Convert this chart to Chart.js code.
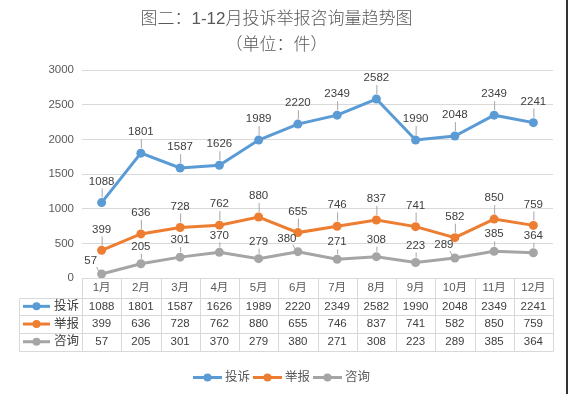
<!DOCTYPE html>
<html>
<head>
<meta charset="utf-8">
<script src="https://cdn.jsdelivr.net/npm/chart.js@4.4.0/dist/chart.umd.min.js"></script>
<style>
  html, body { margin: 0; padding: 0; background: #fff; }
  #wrap { position: relative; width: 569px; height: 394px; }
  #edge { position: absolute; left: 566px; top: 0; width: 2px; height: 394px; background: #333; }
</style>
</head>
<body>
<div id="wrap">
  <canvas id="trendChart" width="569" height="394"></canvas>
  <div id="edge"></div>
</div>
<script>
const months = ["1月", "2月", "3月", "4月", "5月", "6月", "7月", "8月", "9月", "10月", "11月", "12月"];
const seriesNames = ["投诉", "举报", "咨询"];
const tousu = [1088, 1801, 1587, 1626, 1989, 2220, 2349, 2582, 1990, 2048, 2349, 2241];
const jubao = [399, 636, 728, 762, 880, 655, 746, 837, 741, 582, 850, 759];
const zixun = [57, 205, 301, 370, 279, 380, 271, 308, 223, 289, 385, 364];
const yMax = 3000;
const yStep = 500;

const colors = ["#5B9BD5", "#ED7D31", "#A5A5A5"];
const labelLift = [21, 21, 17];
const FONT = "'Liberation Sans', 'Noto Sans CJK SC', sans-serif";

// 折线图标记（线 + 圆点）
function drawSymbol(ctx, x1, x2, y, color) {
  ctx.save();
  ctx.strokeStyle = color;
  ctx.lineWidth = 3;
  ctx.beginPath();
  ctx.moveTo(x1, y);
  ctx.lineTo(x2, y);
  ctx.stroke();
  ctx.fillStyle = color;
  ctx.beginPath();
  ctx.arc((x1 + x2) / 2, y, 4, 0, Math.PI * 2);
  ctx.fill();
  ctx.restore();
}

// 数据标签 + 引导线（被其他系列的点挡住时往左下挪一点）
const labelPlugin = {
  id: "pointLabels",
  afterDatasetsDraw(chart) {
    const ctx = chart.ctx;
    const metas = chart.data.datasets.map((ds, i) => chart.getDatasetMeta(i));
    ctx.save();
    ctx.font = "11.5px " + FONT;
    ctx.fillStyle = "#404040";
    ctx.textAlign = "center";
    ctx.textBaseline = "middle";
    chart.data.datasets.forEach((ds, i) => {
      const lift = labelLift[i];
      metas[i].data.forEach((pt, j) => {
        let lx = pt.x, ly = pt.y - lift;
        const hit = metas.some((m, k) => k !== i && Math.abs(m.data[j].y - ly) < 8);
        if (hit) { lx = pt.x - 11; ly = pt.y - 13; }
        ctx.strokeStyle = "#A6A6A6";
        ctx.lineWidth = 1;
        ctx.beginPath();
        if (hit) {
          ctx.moveTo(lx + 6, ly + 6);
          ctx.lineTo(pt.x - 3, pt.y - 3);
        } else {
          ctx.moveTo(pt.x + 0.5, ly + 7);
          ctx.lineTo(pt.x + 0.5, pt.y - 5);
        }
        ctx.stroke();
        ctx.fillText(String(ds.data[j]), lx, ly);
      });
    });
    ctx.restore();
  }
};

// 数据表 + 图例
const tablePlugin = {
  id: "dataTable",
  afterDraw(chart) {
    const ctx = chart.ctx;
    const a = chart.chartArea;
    const x = chart.scales.x;
    const tableLeft = 19.5;
    const top = Math.round(a.bottom) + 0.5;
    const headH = 19;
    const rowH = 17.7;
    const bottom = Math.round(top + headH + rowH * 3) + 0.5;
    const colW = (a.right - a.left) / months.length;

    ctx.save();
    ctx.strokeStyle = "#D9D9D9";
    ctx.lineWidth = 1;
    ctx.beginPath();
    ctx.moveTo(a.left, top);
    ctx.lineTo(a.right, top);
    for (let r = 0; r <= 3; r++) {
      const yy = Math.round(top + headH + rowH * r) + 0.5;
      ctx.moveTo(tableLeft, yy);
      ctx.lineTo(a.right, yy);
    }
    ctx.moveTo(tableLeft, Math.round(top + headH) + 0.5);
    ctx.lineTo(tableLeft, bottom);
    for (let c = 0; c <= months.length; c++) {
      const xx = Math.round(a.left + colW * c) + 0.5;
      ctx.moveTo(xx, top);
      ctx.lineTo(xx, bottom);
    }
    ctx.stroke();

    ctx.textAlign = "center";
    ctx.textBaseline = "middle";
    ctx.font = "11.5px " + FONT;
    ctx.fillStyle = "#595959";
    months.forEach((m, i) => {
      ctx.fillText(m, x.getPixelForValue(i), top + headH / 2);
    });

    ctx.fillStyle = "#404040";
    chart.data.datasets.forEach((ds, r) => {
      const cy = top + headH + rowH * (r + 0.5);
      ds.data.forEach((v, i) => {
        ctx.fillText(String(v), x.getPixelForValue(i), cy);
      });
      drawSymbol(ctx, 23, 50, cy, colors[r]);
      ctx.textAlign = "left";
      ctx.font = "12.5px " + FONT;
      ctx.fillText(seriesNames[r], 54, cy);
      ctx.textAlign = "center";
      ctx.font = "11.5px " + FONT;
    });

    // 图例
    ctx.font = "12.5px " + FONT;
    ctx.fillStyle = "#595959";
    ctx.textAlign = "left";
    const symW = 29, gap = 3, itemGap = 3;
    let total = 0;
    seriesNames.forEach((n, i) => {
      total += symW + gap + ctx.measureText(n).width + (i < seriesNames.length - 1 ? itemGap : 0);
    });
    let lx = 281.5 - total / 2;
    const ly = 377.5;
    seriesNames.forEach((n, i) => {
      drawSymbol(ctx, lx, lx + symW, ly, colors[i]);
      lx += symW + gap;
      ctx.fillText(n, lx, ly);
      lx += ctx.measureText(n).width + itemGap;
    });
    ctx.restore();
  }
};

function makeDataset(label, data, color) {
  return {
    label,
    data,
    borderColor: color,
    backgroundColor: color,
    borderWidth: 3,
    pointRadius: 4.5,
    pointBorderWidth: 0,
    pointBackgroundColor: color,
    tension: 0
  };
}

const ctx = document.getElementById("trendChart").getContext("2d");
const chart = new Chart(ctx, {
  type: "line",
  data: {
    labels: months,
    datasets: [
      makeDataset(seriesNames[0], tousu, colors[0]),
      makeDataset(seriesNames[1], jubao, colors[1]),
      makeDataset(seriesNames[2], zixun, colors[2])
    ]
  },
  options: {
    responsive: false,
    animation: false,
    layout: { padding: { left: 0, right: 16, top: 0, bottom: 0 } },
    scales: {
      x: {
        offset: true,
        grid: { display: false },
        border: { display: false },
        ticks: { display: false },
        afterFit(s) { s.height = 116; }
      },
      y: {
        min: 0,
        max: yMax,
        ticks: {
          stepSize: yStep,
          color: "#595959",
          font: { family: FONT, size: 11.5 },
          padding: 8,
          callback: v => String(v)
        },
        grid: { color: "#D9D9D9", drawTicks: false },
        border: { display: false },
        afterFit(s) { s.width = 82; }
      }
    },
    plugins: {
      legend: { display: false },
      tooltip: { enabled: false },
      title: {
        display: true,
        text: ["图二：1-12月投诉举报咨询量趋势图", "（单位：件）"],
        color: "#595959",
        font: { family: FONT, size: 17, weight: 300, lineHeight: 1.53 },
        padding: { top: 6, bottom: 12 }
      }
    }
  },
  plugins: [labelPlugin, tablePlugin]
});
</script>
</body>
</html>
